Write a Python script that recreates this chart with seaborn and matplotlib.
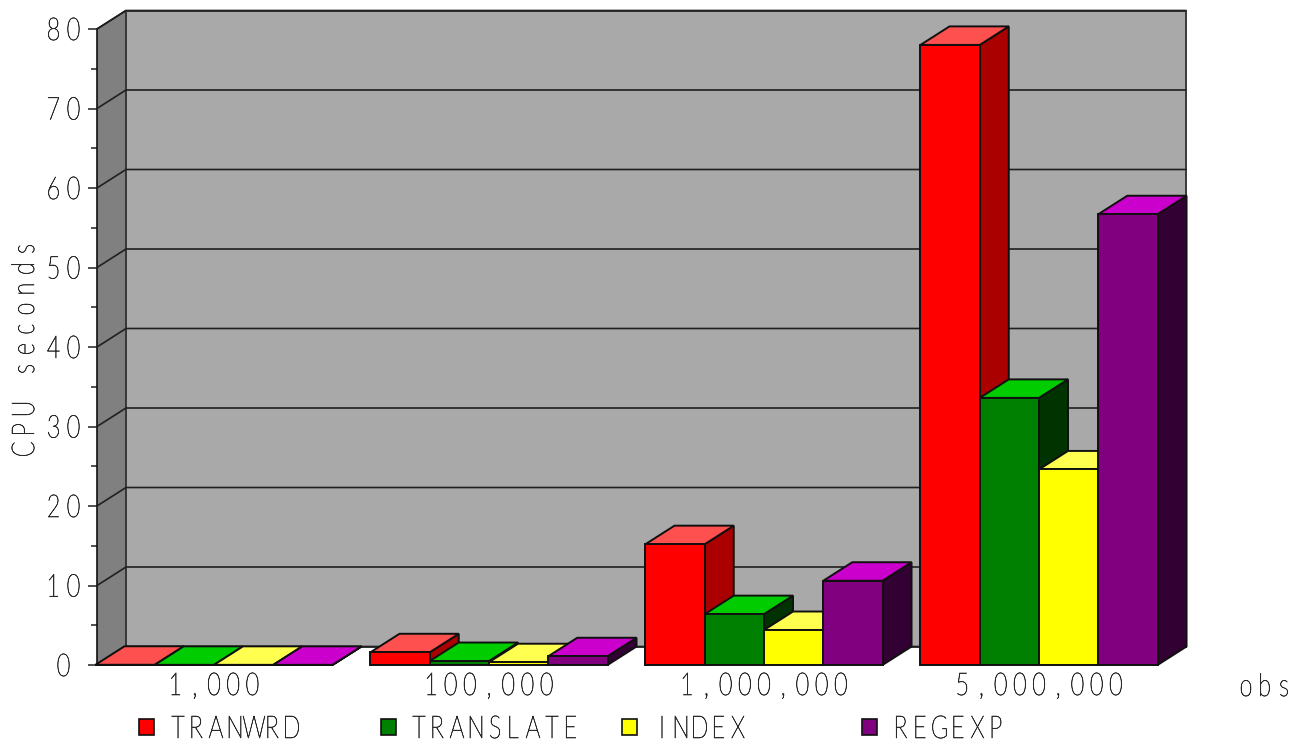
import numpy as np
import pandas as pd
import matplotlib
matplotlib.use("Agg")
import matplotlib.pyplot as plt
import seaborn as sns
from matplotlib.font_manager import FontProperties
from matplotlib.patches import Polygon, Rectangle
from matplotlib.text import Text, TextPath
from matplotlib.transforms import Affine2D, Bbox, blended_transform_factory

# CPU seconds per function and observation count
obs_labels = ["1,000", "100,000", "1,000,000", "5,000,000"]
functions = ["TRANWRD", "TRANSLATE", "INDEX", "REGEXP"]
tranwrd = [0.03, 1.6, 15.2, 78.0]
translate = [0.02, 0.5, 6.4, 33.6]
index_fn = [0.02, 0.35, 4.4, 24.6]
regexp = [0.02, 1.1, 10.6, 56.7]
major_ticks = [0, 10, 20, 30, 40, 50, 60, 70, 80]
minor_ticks = [5, 15, 25, 35, 45, 55, 65, 75]

# Front, top and side shades of each series
front_colors = ["#FF0000", "#008000", "#FFFF00", "#800080"]
top_colors = ["#FF5050", "#00CC00", "#FFFF50", "#CC00CC"]
side_colors = ["#AA0000", "#003300", "#AAAA00", "#330033"]

WIDTH, HEIGHT = 1301, 742
FONT = FontProperties(family="Lato", weight="light")
INK = "#2A2A2A"
EDGE = "#101010"


class SpacedText(Text):
    """Single text drawn with tall narrow glyphs on a fixed character pitch."""

    def __init__(self, x, y, text, pitch=20, glyph_h=22, squeeze=0.74, vertical=False, **kw):
        super().__init__(x, y, text, color=INK, fontsize=16,
                         rotation=90 if vertical else 0,
                         ha="center", va="center", **kw)
        self.pitch, self.glyph_h, self.squeeze, self.vertical = pitch, glyph_h, squeeze, vertical

    def _anchor(self):
        return self.get_transform().transform(self.get_unitless_position())

    def get_window_extent(self, renderer=None, dpi=None):
        cx, cy = self._anchor()
        half = self.pitch * len(self.get_text()) / 2
        hh = self.glyph_h / 2 + 2
        if self.vertical:
            return Bbox.from_extents(cx - hh, cy - half, cx + hh, cy + half)
        return Bbox.from_extents(cx - half, cy - hh, cx + half, cy + hh)

    def draw(self, renderer):
        if not self.get_visible():
            return
        cx, cy = self._anchor()
        cap = TextPath((0, 0), "H", size=100, prop=FONT).get_extents().height
        scale = self.glyph_h / cap
        rgba = matplotlib.colors.to_rgba(self.get_color())
        gc = renderer.new_gc()
        gc.set_linewidth(0.45)
        gc.set_foreground(rgba)
        gc.set_snap(False)
        gc.set_antialiased(True)
        chars = self.get_text()
        start = -self.pitch * len(chars) / 2
        for i, ch in enumerate(chars):
            if ch == " ":
                continue
            path = TextPath((0, 0), ch, size=100, prop=FONT)
            ext = path.get_extents()
            tr = Affine2D().translate(-(ext.x0 + ext.x1) / 2, 0)
            tr.scale(scale * self.squeeze, scale)
            tr.translate(start + (i + 0.5) * self.pitch, -self.glyph_h / 2)
            if self.vertical:
                tr.rotate_deg(90)
            tr.translate(cx, cy)
            renderer.draw_path(gc, path, tr, rgba)
        gc.restore()
        self.stale = False


sns.set_theme(style="white")
fig = plt.figure(figsize=(WIDTH / 100, HEIGHT / 100), dpi=100, facecolor="white")
ax = fig.add_axes([97 / WIDTH, 1 - 665 / HEIGHT, 1060 / WIDTH, 636 / HEIGHT])
ax.patch.set_visible(False)

frame = pd.DataFrame({
    "obs": obs_labels * 4,
    "function": np.repeat(functions, 4),
    "cpu": tranwrd + translate + index_fn + regexp,
})
sns.barplot(data=frame, x="obs", y="cpu", hue="function", order=obs_labels,
            hue_order=functions, palette=front_colors, width=0.862, gap=0,
            saturation=1, edgecolor=EDGE, linewidth=1.4, legend=False, ax=ax)

ax.set_xlim(-0.4255, 3.429)
ax.set_ylim(0, 80)
ax.set_xlabel("")
ax.set_ylabel("")

# Oblique depth of the box, expressed in data units
depth_x = 29 / 275
depth_y = 18.5 / 7.95
x0, x1 = ax.get_xlim()

# Side wall and back wall
ax.add_patch(Polygon([(x0, 0), (x0 + depth_x, depth_y), (x0 + depth_x, 80 + depth_y), (x0, 80)],
                     facecolor="#808080", edgecolor=EDGE, linewidth=1.2, clip_on=False, zorder=1))
ax.add_patch(Rectangle((x0 + depth_x, depth_y), x1 - x0, 80, facecolor="#A9A9A9",
                       edgecolor="#383838", linewidth=1.4, clip_on=False, zorder=1))
for value in major_ticks:
    ax.plot([x0, x0 + depth_x, x1 + depth_x], [value, value + depth_y, value + depth_y],
            color="#202020", lw=1.2, clip_on=False, zorder=2, solid_joinstyle="miter")

# Side and top faces of every bar, painted left to right over earlier neighbours
layer = 3
bars = sorted(
    ((bar, k) for k, container in enumerate(ax.containers) for bar in container),
    key=lambda item: item[0].get_x(),
)
for bar, k in bars:
    left, right = bar.get_x(), bar.get_x() + bar.get_width()
    top = bar.get_height()
    ax.add_patch(Polygon([(right, 0), (right + depth_x, depth_y), (right + depth_x, top + depth_y), (right, top)],
                         facecolor=side_colors[k], edgecolor=EDGE, linewidth=1.4,
                         clip_on=False, zorder=layer))
    ax.add_patch(Polygon([(left, top), (left + depth_x, top + depth_y), (right + depth_x, top + depth_y), (right, top)],
                         facecolor=top_colors[k], edgecolor=EDGE, linewidth=1.4,
                         clip_on=False, zorder=layer))
    bar.set_zorder(layer + 0.5)
    bar.set_clip_on(False)
    layer += 1

# Axis furniture
sns.despine(ax=ax, left=True, bottom=True, top=True, right=True)
ax.set_yticks(major_ticks)
ax.set_yticks(minor_ticks, minor=True)
ax.set_yticklabels([])
ax.set_xticks([])
ax.tick_params(axis="y", which="major", left=True, length=6.5, width=1.1, color="#202020")
ax.tick_params(axis="y", which="minor", left=True, length=4, width=1.1, color="#202020")


def fx(px):
    return px / WIDTH


def fy(px):
    return 1 - px / HEIGHT


y_text = blended_transform_factory(fig.transFigure, ax.transData)
for value in major_ticks:
    fig.add_artist(SpacedText(fx(63.5), value, str(value), transform=y_text))

x_text = blended_transform_factory(ax.transData, fig.transFigure)
for pos, label in enumerate(obs_labels):
    fig.add_artist(SpacedText(pos, fy(684), label, pitch=19.2, transform=x_text))

fig.add_artist(SpacedText(fx(1265), fy(685), "obs", pitch=19, transform=fig.transFigure))
fig.add_artist(SpacedText(fx(23), fy(349), "CPU seconds", pitch=20, vertical=True,
                          transform=fig.transFigure))

# Legend row
swatch_left = [139, 381, 622, 862]
label_center = [235, 495, 700, 949]
for k, name in enumerate(functions):
    fig.add_artist(Rectangle((fx(swatch_left[k]), fy(735)), 15 / WIDTH, 16 / HEIGHT,
                             facecolor=front_colors[k], edgecolor=EDGE, linewidth=1.2,
                             transform=fig.transFigure))
    fig.add_artist(SpacedText(fx(label_center[k]), fy(727), name, pitch=19,
                              transform=fig.transFigure))

fig.savefig("out.png", dpi=100, facecolor="white")
